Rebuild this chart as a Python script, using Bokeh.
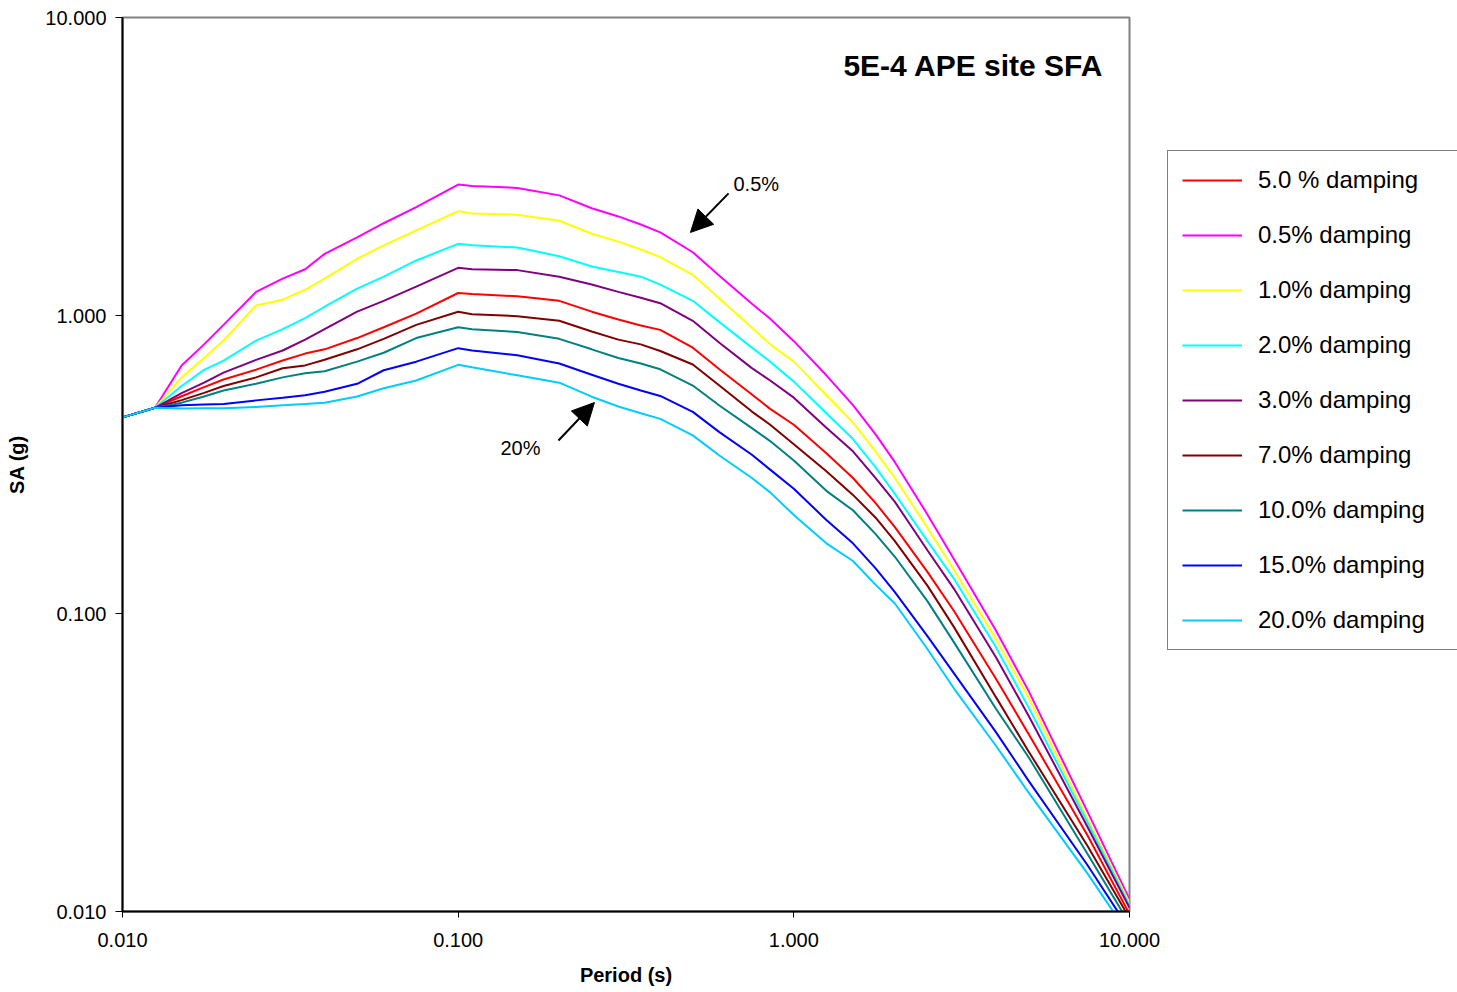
from bokeh.plotting import figure
from bokeh.layouts import row
from bokeh.models import (Range1d, FixedTicker, PrintfTickFormatter, Legend,
                          LegendItem, Label, Arrow, NormalHead)
from bokeh.embed import file_html
from bokeh.resources import INLINE

# ---- data ----
period = [0.01, 0.0125, 0.015, 0.0175, 0.02, 0.025, 0.03, 0.035, 0.04, 0.05, 0.06,
          0.075, 0.1, 0.11, 0.15, 0.2, 0.25, 0.3, 0.35, 0.4, 0.5, 0.6, 0.75, 0.85,
          1.0, 1.25, 1.5, 1.75, 2.0, 2.5, 3.0, 4.0, 5.0, 7.5, 10.0]

sa_d5_0 = [0.455, 0.49, 0.536, 0.575, 0.61, 0.658, 0.706, 0.745, 0.77, 0.84, 0.913,
           1.015, 1.19, 1.18, 1.16, 1.12, 1.03, 0.97, 0.926, 0.895, 0.78, 0.66, 0.543,
           0.486, 0.43, 0.345, 0.285, 0.235, 0.195, 0.138, 0.102, 0.0604, 0.0395,
           0.018, 0.0098]
sa_d0_5 = [0.455, 0.49, 0.68, 0.80, 0.93, 1.20, 1.33, 1.43, 1.61, 1.83, 2.04,
           2.31, 2.75, 2.72, 2.68, 2.53, 2.29, 2.15, 2.02, 1.90, 1.63, 1.36, 1.095,
           0.975, 0.82, 0.63, 0.50, 0.40, 0.322, 0.215, 0.152, 0.0877, 0.0551,
           0.0216, 0.011]
sa_d1_0 = [0.455, 0.49, 0.62, 0.72, 0.824, 1.08, 1.13, 1.22, 1.33, 1.55, 1.72,
           1.93, 2.24, 2.20, 2.18, 2.08, 1.88, 1.77, 1.665, 1.57, 1.37, 1.14, 0.91,
           0.80, 0.70, 0.54, 0.437, 0.35, 0.285, 0.194, 0.14, 0.0822, 0.0524,
           0.0204, 0.0107]
sa_d2_0 = [0.455, 0.49, 0.58, 0.657, 0.706, 0.824, 0.90, 0.98, 1.07, 1.23, 1.35,
           1.53, 1.74, 1.72, 1.69, 1.58, 1.46, 1.40, 1.35, 1.27, 1.12, 0.95, 0.78,
           0.70, 0.60, 0.47, 0.385, 0.31, 0.252, 0.175, 0.1307, 0.077, 0.0485,
           0.0199, 0.0105]
sa_d3_0 = [0.455, 0.49, 0.549, 0.595, 0.643, 0.71, 0.763, 0.83, 0.90, 1.03, 1.12,
           1.25, 1.445, 1.43, 1.42, 1.35, 1.27, 1.20, 1.147, 1.10, 0.96, 0.81, 0.666,
           0.605, 0.53, 0.42, 0.35, 0.285, 0.237, 0.163, 0.121, 0.0713, 0.0455,
           0.0192, 0.0103]
sa_d7_0 = [0.455, 0.49, 0.52, 0.55, 0.58, 0.62, 0.665, 0.68, 0.71, 0.77, 0.835,
           0.93, 1.03, 1.01, 0.995, 0.96, 0.884, 0.83, 0.80, 0.76, 0.685, 0.582,
           0.476, 0.43, 0.37, 0.30, 0.25, 0.21, 0.175, 0.124, 0.09, 0.0524, 0.0345,
           0.0166, 0.0095]
sa_d10_0 = [0.455, 0.49, 0.51, 0.535, 0.56, 0.59, 0.62, 0.64, 0.65, 0.70, 0.75,
            0.84, 0.913, 0.90, 0.88, 0.835, 0.77, 0.72, 0.69, 0.66, 0.582, 0.499,
            0.419, 0.379, 0.326, 0.258, 0.222, 0.185, 0.155, 0.11, 0.080, 0.0479,
            0.033, 0.0156, 0.0091]
sa_d15_0 = [0.455, 0.49, 0.50, 0.503, 0.505, 0.519, 0.53, 0.54, 0.555, 0.59, 0.655,
            0.70, 0.777, 0.763, 0.735, 0.69, 0.633, 0.59, 0.56, 0.537, 0.475, 0.406,
            0.341, 0.304, 0.262, 0.206, 0.172, 0.142, 0.118, 0.084, 0.063, 0.040,
            0.0275, 0.0143, 0.0087]
sa_d20_0 = [0.455, 0.49, 0.487, 0.488, 0.488, 0.493, 0.50, 0.505, 0.51, 0.535, 0.57,
            0.605, 0.683, 0.67, 0.63, 0.595, 0.534, 0.495, 0.47, 0.45, 0.396, 0.339,
            0.285, 0.255, 0.214, 0.172, 0.15, 0.125, 0.108, 0.076, 0.056, 0.036,
            0.0251, 0.0134, 0.0083]

series_labels = ["5.0 % damping", "0.5% damping", "1.0% damping", "2.0% damping",
                 "3.0% damping", "7.0% damping", "10.0% damping", "15.0% damping",
                 "20.0% damping"]
series_values = [sa_d5_0, sa_d0_5, sa_d1_0, sa_d2_0, sa_d3_0, sa_d7_0, sa_d10_0,
                 sa_d15_0, sa_d20_0]
series_colors = ["#FF0000", "#FF00FF", "#FFFF00", "#00FFFF", "#800080", "#800000",
                 "#008080", "#0000FF", "#00CCFF"]

tick_values = [0.01, 0.1, 1.0, 10.0]

FONT = "Liberation Sans"

# ---------------- main chart ----------------
p = figure(width=1166, height=992, x_axis_type="log", y_axis_type="log",
           x_range=Range1d(0.01, 10.0), y_range=Range1d(0.01, 10.0),
           output_backend="svg", toolbar_location=None,
           min_border_left=122, min_border_right=37,
           min_border_top=17, min_border_bottom=81)

p.background_fill_color = "white"
p.border_fill_color = "white"
p.outline_line_color = "#808080"
p.outline_line_width = 2
p.xgrid.visible = False
p.ygrid.visible = False

for ax in (p.xaxis[0], p.yaxis[0]):
    ax.ticker = FixedTicker(ticks=tick_values)
    ax.formatter = PrintfTickFormatter(format="%.3f")
    ax.minor_tick_line_color = None
    ax.major_tick_in = 0
    ax.axis_line_color = "black"
    ax.axis_line_width = 2
    ax.major_tick_line_color = "black"
    ax.major_tick_line_width = 1
    ax.major_label_text_font = FONT
    ax.major_label_text_font_size = "20px"
    ax.major_label_text_color = "black"
    ax.axis_label_text_font = FONT
    ax.axis_label_text_font_size = "20px"
    ax.axis_label_text_font_style = "bold"
    ax.axis_label_text_color = "black"

p.xaxis.axis_label = "Period (s)"
p.yaxis.axis_label = "SA (g)"
p.xaxis.major_tick_out = 6
p.yaxis.major_tick_out = 7
p.xaxis.major_label_standoff = 15
p.yaxis.major_label_standoff = 9
p.xaxis.axis_label_standoff = 14
p.yaxis.axis_label_standoff = 14

for vals, col in zip(series_values, series_colors):
    p.line(period, vals, line_color=col, line_width=2)

p.add_layout(Label(x=8.365, y=6.9, text="5E-4 APE site SFA", text_font=FONT,
                   text_font_size="30px", text_font_style="bold",
                   text_align="right", text_baseline="middle", text_color="black"))

p.add_layout(Label(x=0.661, y=2.77, text="0.5%", text_font=FONT,
                   text_font_size="20px", text_align="left",
                   text_baseline="middle", text_color="black"))
p.add_layout(Label(x=0.1533, y=0.3605, text="20%", text_font=FONT,
                   text_font_size="20px", text_align="center",
                   text_baseline="middle", text_color="black"))

p.add_layout(Arrow(end=NormalHead(size=22, fill_color="black", line_color="black"),
                   x_start=0.639, y_start=2.57, x_end=0.492, y_end=1.90,
                   line_color="black", line_width=2))
p.add_layout(Arrow(end=NormalHead(size=22, fill_color="black", line_color="black"),
                   x_start=0.199, y_start=0.3805, x_end=0.2547, y_end=0.5105,
                   line_color="black", line_width=2))

# ---------------- legend panel (separate figure to the right) ----------------
pl = figure(width=291, height=992, x_range=Range1d(20.0, 30.0),
            y_range=Range1d(20.0, 30.0), x_axis_location=None,
            y_axis_location=None, output_backend="svg", toolbar_location=None,
            min_border=0)
pl.outline_line_color = None
pl.background_fill_color = "white"
pl.border_fill_color = "white"
pl.xgrid.visible = False
pl.ygrid.visible = False

items = []
for lab, vals, col in zip(series_labels, series_values, series_colors):
    r = pl.line(period, vals, line_color=col, line_width=2)
    items.append(LegendItem(label=lab, renderers=[r]))

legend = Legend(items=items, location=(1, 261),
                border_line_color="black", border_line_width=1,
                background_fill_color="white", background_fill_alpha=1.0,
                label_text_font=FONT, label_text_font_size="24px",
                label_text_color="black",
                glyph_width=60, glyph_height=30, label_height=30,
                label_standoff=16, spacing=25, padding=14, margin=0,
                label_width=200)
pl.add_layout(legend)

layout = row(p, pl, spacing=0)

with open("out.html", "w") as f:
    f.write(file_html(layout, INLINE))
